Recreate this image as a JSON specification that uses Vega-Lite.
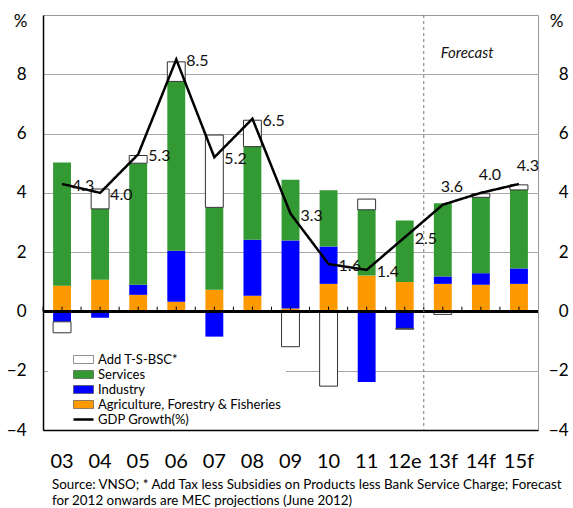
{
  "$schema": "https://vega.github.io/schema/vega-lite/v6.json",
  "width": 495,
  "height": 415,
  "autosize": {"type": "none"},
  "padding": {"left": 43, "top": 15, "right": 35, "bottom": 78},
  "background": "white",
  "datasets": {
    "bars": [
      {"year": "03", "component": "Agriculture, Forestry & Fisheries", "value": 0.87},
      {"year": "03", "component": "Industry", "value": -0.35},
      {"year": "03", "component": "Services", "value": 4.15},
      {"year": "03", "component": "Add T-S-BSC*", "value": -0.37},
      {"year": "04", "component": "Agriculture, Forestry & Fisheries", "value": 1.07},
      {"year": "04", "component": "Industry", "value": -0.21},
      {"year": "04", "component": "Services", "value": 2.39},
      {"year": "04", "component": "Add T-S-BSC*", "value": 0.67},
      {"year": "05", "component": "Agriculture, Forestry & Fisheries", "value": 0.56},
      {"year": "05", "component": "Industry", "value": 0.34},
      {"year": "05", "component": "Services", "value": 4.1},
      {"year": "05", "component": "Add T-S-BSC*", "value": 0.26},
      {"year": "06", "component": "Agriculture, Forestry & Fisheries", "value": 0.33},
      {"year": "06", "component": "Industry", "value": 1.72},
      {"year": "06", "component": "Services", "value": 5.71},
      {"year": "06", "component": "Add T-S-BSC*", "value": 0.66},
      {"year": "07", "component": "Agriculture, Forestry & Fisheries", "value": 0.73},
      {"year": "07", "component": "Industry", "value": -0.85},
      {"year": "07", "component": "Services", "value": 2.78},
      {"year": "07", "component": "Add T-S-BSC*", "value": 2.44},
      {"year": "08", "component": "Agriculture, Forestry & Fisheries", "value": 0.53},
      {"year": "08", "component": "Industry", "value": 1.89},
      {"year": "08", "component": "Services", "value": 3.14},
      {"year": "08", "component": "Add T-S-BSC*", "value": 0.89},
      {"year": "09", "component": "Agriculture, Forestry & Fisheries", "value": 0.1},
      {"year": "09", "component": "Industry", "value": 2.29},
      {"year": "09", "component": "Services", "value": 2.05},
      {"year": "09", "component": "Add T-S-BSC*", "value": -1.19},
      {"year": "10", "component": "Agriculture, Forestry & Fisheries", "value": 0.93},
      {"year": "10", "component": "Industry", "value": 1.26},
      {"year": "10", "component": "Services", "value": 1.9},
      {"year": "10", "component": "Add T-S-BSC*", "value": -2.52},
      {"year": "11", "component": "Agriculture, Forestry & Fisheries", "value": 1.21},
      {"year": "11", "component": "Industry", "value": -2.38},
      {"year": "11", "component": "Services", "value": 2.22},
      {"year": "11", "component": "Add T-S-BSC*", "value": 0.36},
      {"year": "12e", "component": "Agriculture, Forestry & Fisheries", "value": 0.99},
      {"year": "12e", "component": "Industry", "value": -0.57},
      {"year": "12e", "component": "Services", "value": 2.08},
      {"year": "12e", "component": "Add T-S-BSC*", "value": -0.03},
      {"year": "13f", "component": "Agriculture, Forestry & Fisheries", "value": 0.93},
      {"year": "13f", "component": "Industry", "value": 0.25},
      {"year": "13f", "component": "Services", "value": 2.47},
      {"year": "13f", "component": "Add T-S-BSC*", "value": -0.1},
      {"year": "14f", "component": "Agriculture, Forestry & Fisheries", "value": 0.9},
      {"year": "14f", "component": "Industry", "value": 0.39},
      {"year": "14f", "component": "Services", "value": 2.56},
      {"year": "14f", "component": "Add T-S-BSC*", "value": 0.12},
      {"year": "15f", "component": "Agriculture, Forestry & Fisheries", "value": 0.93},
      {"year": "15f", "component": "Industry", "value": 0.52},
      {"year": "15f", "component": "Services", "value": 2.65},
      {"year": "15f", "component": "Add T-S-BSC*", "value": 0.17}
    ],
    "gdp": [
      {"year": "03", "gdp": 4.3, "period": "actual"},
      {"year": "04", "gdp": 4.0, "period": "actual"},
      {"year": "05", "gdp": 5.3, "period": "actual"},
      {"year": "06", "gdp": 8.5, "period": "actual"},
      {"year": "07", "gdp": 5.2, "period": "actual"},
      {"year": "08", "gdp": 6.5, "period": "actual"},
      {"year": "09", "gdp": 3.3, "period": "actual"},
      {"year": "10", "gdp": 1.6, "period": "actual"},
      {"year": "11", "gdp": 1.4, "period": "actual"},
      {"year": "12e", "gdp": 2.5, "period": "actual"},
      {"year": "13f", "gdp": 3.6, "period": "forecast"},
      {"year": "14f", "gdp": 4.0, "period": "forecast"},
      {"year": "15f", "gdp": 4.3, "period": "forecast"}
    ]
  },
  "title": {
    "text": ["Source: VNSO; * Add Tax less Subsidies on Products less Bank Service Charge; Forecast", "for 2012 onwards are MEC projections (June 2012)"],
    "orient": "bottom",
    "anchor": "start",
    "frame": "group",
    "offset": 7,
    "dx": 9,
    "font": "Lato",
    "fontSize": 13.4,
    "fontWeight": "normal",
    "lineHeight": 16,
    "color": "black"
  },
  "layer": [
    {
      "data": {"name": "bars"},
      "transform": [
        {"calculate": "indexof(['Agriculture, Forestry & Fisheries','Industry','Services','Add T-S-BSC*'], datum.component)", "as": "stackorder"}
      ],
      "mark": {"type": "bar", "width": {"band": 0.47}, "stroke": "#333"},
      "encoding": {
        "x": {
          "field": "year", "type": "ordinal",
          "scale": {"domain": ["03","04","05","06","07","08","09","10","11","12e","13f","14f","15f"], "paddingInner": 0, "paddingOuter": 0},
          "axis": {"orient": "bottom", "title": null, "labelAngle": 0, "labelFontSize": 20, "labelPadding": 21, "ticks": false, "domainColor": "black", "domainWidth": 1.5, "labelColor": "black", "grid": false}
        },
        "y": {
          "field": "value", "type": "quantitative", "stack": "zero",
          "scale": {"domain": [-4, 10], "nice": false, "zero": false},
          "axis": {"orient": "left", "values": [-4,-2,0,2,4,6,8], "grid": true, "gridColor": "#a8a8a8", "gridWidth": 1, "ticks": false, "domainColor": "black", "domainWidth": 1.5, "labelFontSize": 17, "labelPadding": 17, "labelColor": "black", "title": "%", "titleAngle": 0, "titleX": -23, "titleY": 6, "titleAlign": "center", "titleBaseline": "middle", "titleFontSize": 17, "titleFontWeight": "normal", "titleColor": "black"}
        },
        "color": {
          "field": "component", "type": "nominal",
          "scale": {"domain": ["Add T-S-BSC*", "Services", "Industry", "Agriculture, Forestry & Fisheries"], "range": ["white", "#339933", "#0000ff", "#ff9900"]},
          "legend": {
            "orient": "none", "legendX": 5, "legendY": 334, "title": null, "fillColor": "white", "padding": 4, "zindex": 1,
            "symbolType": "M-2,-0.8H2V0.8H-2Z", "symbolSize": 100, "symbolOffset": 25,
            "symbolStrokeColor": "#444", "symbolStrokeWidth": 0.6,
            "labelFontSize": 13, "labelOffset": 8, "rowPadding": 1, "labelColor": "black", "labelLimit": 400
          }
        },
        "order": {"field": "stackorder", "type": "quantitative"},
        "strokeWidth": {"condition": {"test": "datum.component === 'Add T-S-BSC*'", "value": 1}, "value": 0}
      }
    },
    {
      "data": {"name": "gdp"},
      "mark": {"type": "rule", "color": "black", "strokeWidth": 1},
      "encoding": {
        "x": {"field": "year", "type": "ordinal", "bandPosition": 0},
        "y": {"datum": 0, "type": "quantitative", "axis": null},
        "y2": {"datum": 0.16}
      }
    },
    {
      "data": {"name": "gdp"},
      "mark": {"type": "rule", "color": "black", "strokeWidth": 1},
      "encoding": {
        "x": {"field": "year", "type": "ordinal", "bandPosition": 0.5},
        "y": {"datum": 0, "type": "quantitative", "axis": null},
        "y2": {"datum": 0.16}
      }
    },
    {
      "data": {"name": "gdp"},
      "mark": {"type": "rule", "color": "black", "strokeWidth": 1.5},
      "encoding": {
        "y": {"datum": 0, "type": "quantitative", "axis": null}
      }
    },
    {
      "data": {"name": "gdp"},
      "transform": [{"filter": "datum.year === '13f'"}],
      "mark": {"type": "rule", "color": "#777", "strokeWidth": 1, "strokeDash": [3, 3]},
      "encoding": {
        "x": {"field": "year", "type": "ordinal", "bandPosition": 0}
      }
    },
    {
      "data": {"name": "gdp"},
      "mark": {"type": "line", "strokeWidth": 2.5, "color": "black"},
      "encoding": {
        "x": {"field": "year", "type": "ordinal"},
        "y": {
          "field": "gdp", "type": "quantitative",
          "scale": {"domain": [-4, 10], "nice": false, "zero": false},
          "axis": {"orient": "right", "values": [-4,-2,0,2,4,6,8], "grid": false, "ticks": false, "domain": false, "labelFontSize": 17, "labelPadding": 30, "labelAlign": "right", "labelColor": "black", "title": "%", "titleAngle": 0, "titleX": 18, "titleY": 6, "titleAlign": "center", "titleBaseline": "middle", "titleFontSize": 17, "titleFontWeight": "normal", "titleColor": "black"}
        },
        "strokeDash": {
          "datum": "GDP Growth(%)",
          "scale": {"domain": ["GDP Growth(%)"], "range": [[1, 0]]},
          "legend": {
            "orient": "none", "legendX": 5, "legendY": 397, "title": null, "fillColor": "white", "padding": 1, "zindex": 3,
            "symbolType": "M-2,0H2", "symbolSize": 100, "symbolOffset": 28, "symbolStrokeColor": "black", "symbolStrokeWidth": 2.5,
            "labelFontSize": 13, "labelOffset": 8, "labelColor": "black", "labelLimit": 400
          }
        }
      }
    },
    {
      "data": {"name": "gdp"},
      "transform": [{"filter": "datum.period === 'actual'"}],
      "mark": {"type": "text", "align": "left", "baseline": "middle", "dx": 10, "dy": 2, "fontSize": 16, "color": "#111"},
      "encoding": {
        "x": {"field": "year", "type": "ordinal"},
        "y": {"field": "gdp", "type": "quantitative", "axis": null},
        "text": {"field": "gdp", "type": "quantitative", "format": ".1f"}
      }
    },
    {
      "data": {"name": "gdp"},
      "transform": [{"filter": "datum.period === 'forecast'"}],
      "mark": {"type": "text", "align": "center", "baseline": "middle", "dx": 9, "dy": -18, "fontSize": 16, "color": "#111"},
      "encoding": {
        "x": {"field": "year", "type": "ordinal"},
        "y": {"field": "gdp", "type": "quantitative", "axis": null},
        "text": {"field": "gdp", "type": "quantitative", "format": ".1f"}
      }
    },
    {
      "data": {"values": [{"note": "Forecast", "year": "13f", "pos": 8.73}]},
      "mark": {"type": "text", "align": "left", "baseline": "middle", "dx": -2, "fontSize": 15, "fontStyle": "italic", "color": "#111"},
      "encoding": {
        "x": {"field": "year", "type": "ordinal"},
        "y": {"field": "pos", "type": "quantitative", "axis": null},
        "text": {"field": "note"}
      }
    }
  ],
  "resolve": {"scale": {"y": "shared"}, "axis": {"y": "independent"}},
  "config": {
    "font": "Lato",
    "view": {"stroke": "#999"},
    "axis": {"labelFont": "Lato", "titleFont": "Lato"},
    "legend": {"labelFont": "Lato"}
  }
}
